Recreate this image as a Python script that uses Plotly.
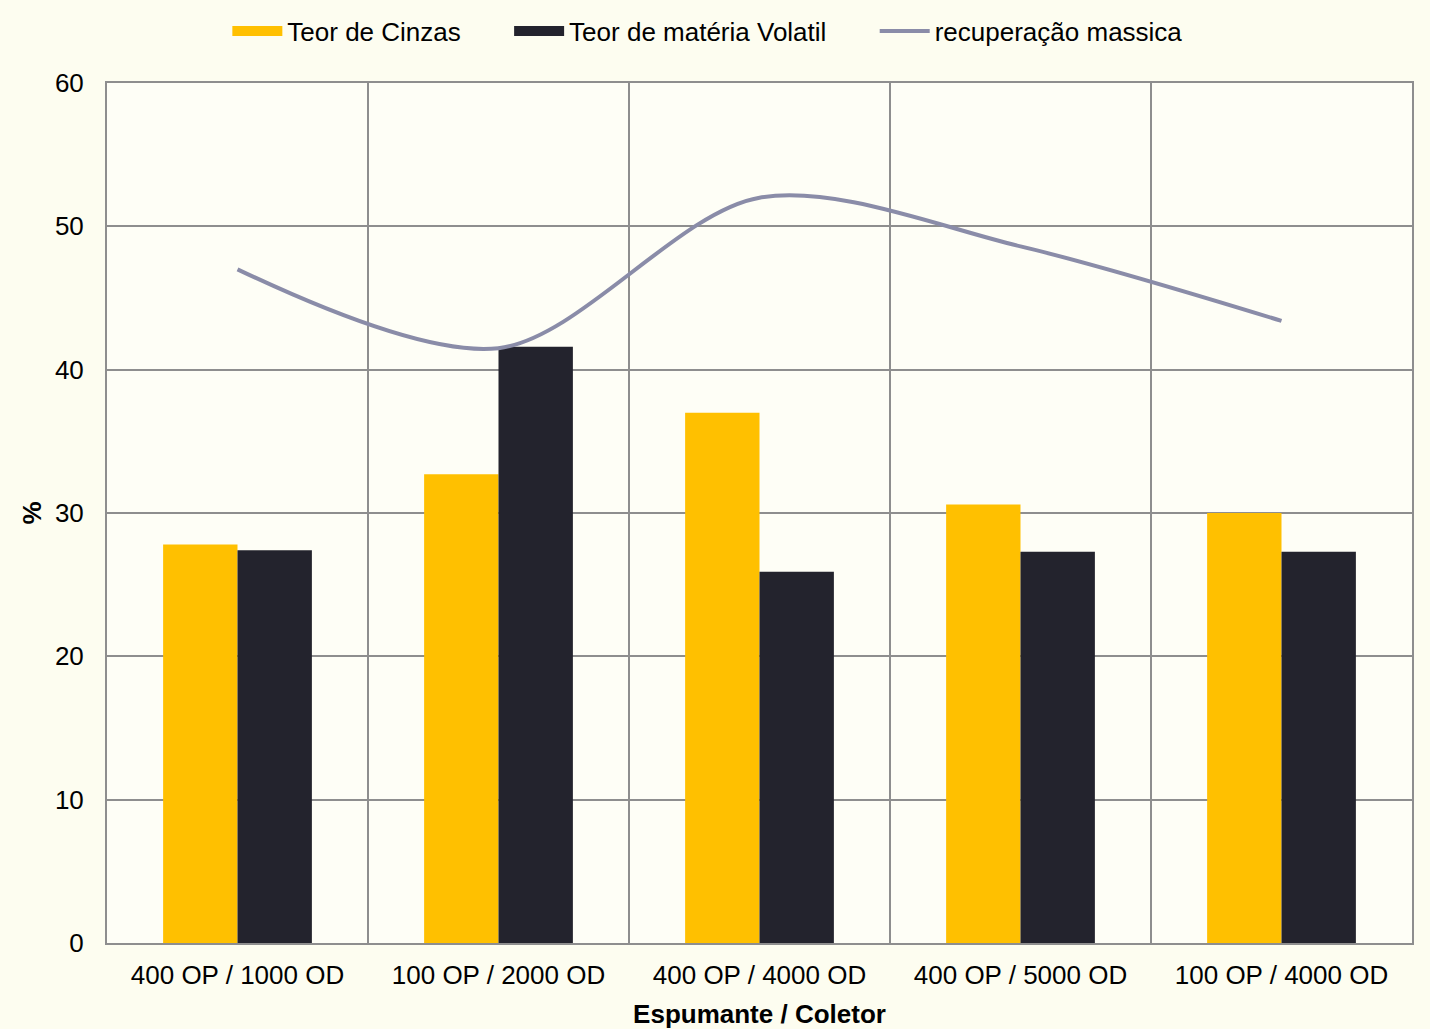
import plotly.graph_objects as go

categories = ["400 OP / 1000 OD", "100 OP / 2000 OD", "400 OP / 4000 OD",
              "400 OP / 5000 OD", "100 OP / 4000 OD"]
teor_cinzas = [27.8, 32.7, 37.0, 30.6, 30.0]
teor_volatil = [27.4, 41.6, 25.9, 27.3, 27.3]
recuperacao = [47.0, 41.5, 52.0, 48.6, 43.4]

FONT = "Liberation Sans, Arial, sans-serif"
GRID = "#8E8E8E"
GOLD = "#FFC000"
DARK = "#23232D"
LINE = "#8A8CA8"
GAP = "\u00a0" * 6

fig = go.Figure()
fig.add_trace(go.Bar(x=categories, y=teor_cinzas, name="Teor de Cinzas",
                     marker=dict(color=GOLD, line=dict(width=0)), showlegend=False))
fig.add_trace(go.Bar(x=categories, y=teor_volatil, name="Teor de matéria Volatil",
                     marker=dict(color=DARK, line=dict(width=0)), showlegend=False))
fig.add_trace(go.Scatter(x=categories, y=recuperacao, name="recuperação massica",
                         mode="lines", showlegend=False,
                         line=dict(color=LINE, width=4, shape="spline", smoothing=0.9)))

# legend keys: wide blocks for the bar series, a line for the curve
for name, color, w in [("Teor de Cinzas" + GAP, GOLD, 14),
                       ("Teor de matéria Volatil" + GAP, DARK, 14),
                       ("recuperação massica", LINE, 4)]:
    fig.add_trace(go.Scatter(x=[None], y=[None], mode="lines", name=name,
                             line=dict(color=color, width=w)))

fig.update_layout(
    width=1430, height=1029,
    margin=dict(l=107, r=18, t=83, b=86, autoexpand=False),
    paper_bgcolor="#FDFDF0",
    plot_bgcolor="#FEFEF6",
    barmode="group",
    bargap=0.43,
    bargroupgap=0,
    font=dict(family=FONT, size=26, color="#000000"),
    legend=dict(orientation="h", x=0.495, xref="container", xanchor="center",
                y=1 - 31 / 1029, yref="container", yanchor="middle",
                font=dict(size=26), bgcolor="rgba(0,0,0,0)",
                itemwidth=50, tracegroupgap=0),
    xaxis=dict(
        type="category",
        tickson="boundaries",
        showgrid=True, gridcolor=GRID, gridwidth=1.5,
        showline=True, linecolor=GRID, linewidth=2, mirror=True,
        ticks="", ticklabelstandoff=8,
        tickfont=dict(size=26),
        title=dict(text="<b>Espumante / Coletor</b>", font=dict(size=26), standoff=25),
    ),
    yaxis=dict(
        range=[0, 60], dtick=10,
        showgrid=True, gridcolor=GRID, gridwidth=1.5,
        showline=True, linecolor=GRID, linewidth=2, mirror=True,
        zeroline=False,
        ticks="", ticklabelstandoff=16,
        tickfont=dict(size=26),
        title=dict(text="<b>%</b>", font=dict(size=26), standoff=6),
    ),
)

fig.write_html("out.html")
